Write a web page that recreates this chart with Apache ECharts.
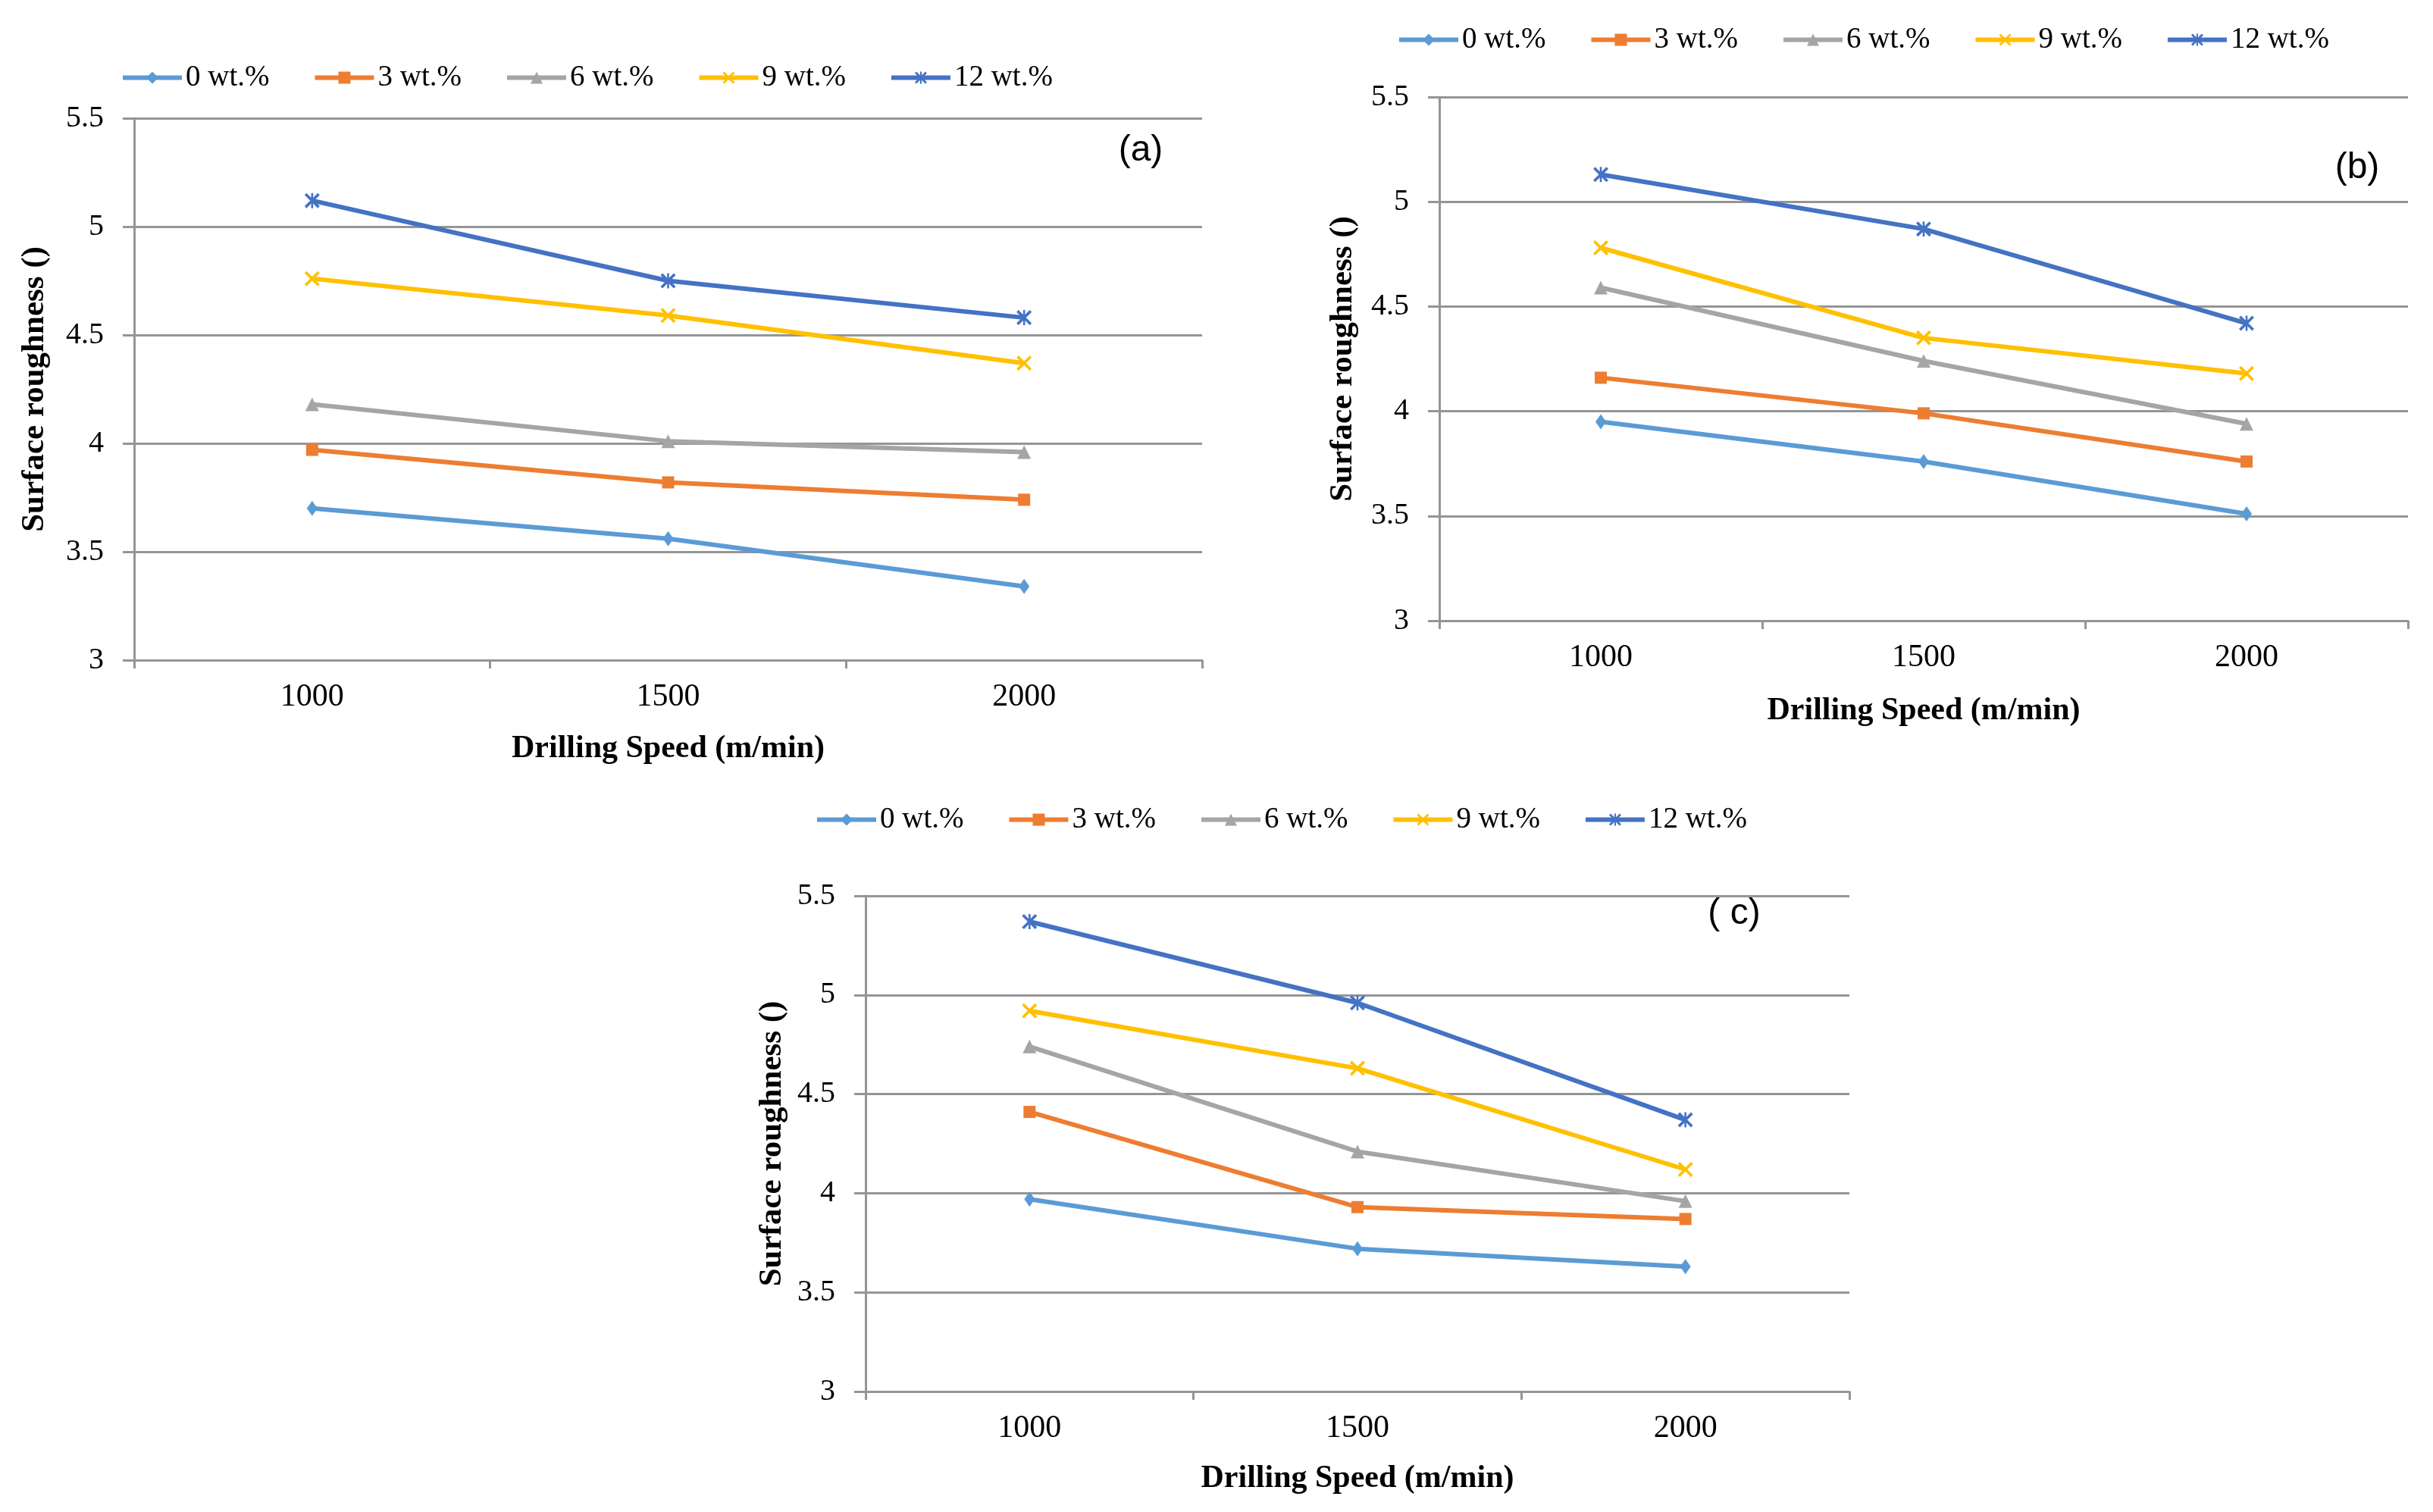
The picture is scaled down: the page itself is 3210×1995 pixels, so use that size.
<!DOCTYPE html>
<html>
<head>
<meta charset="utf-8">
<script src="https://cdn.jsdelivr.net/npm/echarts@6/dist/echarts.min.js"></script>
<style>
html,body{margin:0;padding:0;background:#fff;}
#chart{width:3210px;height:1995px;}
</style>
</head>
<body>
<div id="chart"></div>
<script>
// ---- data ----
const categories = ['1000', '1500', '2000'];
const seriesNames = ['0 wt.%', '3 wt.%', '6 wt.%', '9 wt.%', '12 wt.%'];
const panelLabels = ['(a)', '(b)', '( c)'];
const yMin = 3, yMax = 5.5, yStep = 0.5;

// panel (a)
const a0  = [3.70, 3.56, 3.34];
const a3  = [3.97, 3.82, 3.74];
const a6  = [4.18, 4.01, 3.96];
const a9  = [4.76, 4.59, 4.37];
const a12 = [5.12, 4.75, 4.58];
// panel (b)
const b0  = [3.95, 3.76, 3.51];
const b3  = [4.16, 3.99, 3.76];
const b6  = [4.59, 4.24, 3.94];
const b9  = [4.78, 4.35, 4.18];
const b12 = [5.13, 4.87, 4.42];
// panel (c)
const c0  = [3.97, 3.72, 3.63];
const c3  = [4.41, 3.93, 3.87];
const c6  = [4.74, 4.21, 3.96];
const c9  = [4.92, 4.63, 4.12];
const c12 = [5.37, 4.96, 4.37];

const panelData = [[a0, a3, a6, a9, a12], [b0, b3, b6, b9, b12], [c0, c3, c6, c9, c12]];

// ---- styles ----
const colors = ['#5B9BD5', '#ED7D31', '#A5A5A5', '#FFC000', '#4472C4'];
const xPath = 'path://M0,1.3L1.3,0L10,8.7L8.7,10Z M8.7,0L10,1.3L1.3,10L0,8.7Z';
const starPath = 'path://M0,1.3L1.3,0L10,8.7L8.7,10Z M8.7,0L10,1.3L1.3,10L0,8.7Z M4.35,0H5.65V10H4.35Z';
const symbols = ['diamond', 'rect', 'triangle', xPath, starPath];
const symbolSizes = [[14, 20], 16, 18, 20, 20];
const gridColor = '#959595';
const serif = "'Liberation Serif', 'Times New Roman', serif";

const grids = [
  {left: 177, top: 156, width: 1409, height: 715},
  {left: 1899, top: 128, width: 1278, height: 691},
  {left: 1142, top: 1182, width: 1298, height: 654}
];
const legendPos = [{left: 154, top: 78}, {left: 1838, top: 28}, {left: 1070, top: 1057}];
const yNameGap = [110, 106, 102];
const xNameGap = [96, 98, 94];
const labelPos = [[1505, 199], [3110, 222], [2288, 1206]];

const xAxes = [], yAxes = [], series = [], legends = [], graphics = [];
grids.forEach((g, p) => {
  xAxes.push({
    type: 'category', gridIndex: p, data: categories, boundaryGap: true,
    axisLine: {show: true, lineStyle: {color: gridColor, width: 3}},
    axisTick: {show: true, length: 11, lineStyle: {color: gridColor, width: 3}},
    axisLabel: {fontSize: 42, fontFamily: serif, color: '#000', margin: 28},
    splitLine: {show: false},
    name: 'Drilling Speed (m/min)', nameLocation: 'middle', nameGap: xNameGap[p],
    nameTextStyle: {fontSize: 42, fontWeight: 'bold', fontFamily: serif, color: '#000'}
  });
  yAxes.push({
    type: 'value', gridIndex: p, min: yMin, max: yMax, interval: yStep,
    axisLine: {show: true, lineStyle: {color: gridColor, width: 3}},
    axisTick: {show: true, length: 15, lineStyle: {color: gridColor, width: 3}},
    axisLabel: {fontSize: 40, fontFamily: serif, color: '#000', margin: 40},
    splitLine: {show: true, lineStyle: {color: gridColor, width: 3}},
    name: 'Surface roughness ()', nameLocation: 'middle', nameGap: yNameGap[p], nameRotate: 90,
    nameTextStyle: {fontSize: 43, fontWeight: 'bold', fontFamily: serif, color: '#000'}
  });
  panelData[p].forEach((arr, i) => {
    series.push({
      type: 'line', name: seriesNames[i], xAxisIndex: p, yAxisIndex: p,
      data: arr, symbol: symbols[i], symbolSize: symbolSizes[i], showAllSymbol: true,
      color: colors[i],
      itemStyle: {color: colors[i]},
      lineStyle: {color: colors[i], width: 6},
      animation: false
    });
  });
  legends.push({
    data: seriesNames, left: legendPos[p].left, top: legendPos[p].top,
    itemWidth: 78, itemHeight: 20, itemGap: 57,
    lineStyle: {width: 6},
    textStyle: {fontSize: 39, fontFamily: serif, color: '#000'},
    selectedMode: false
  });
  graphics.push({
    type: 'text', x: labelPos[p][0], y: labelPos[p][1],
    style: {text: panelLabels[p], fontSize: 48, fontFamily: "'Liberation Sans Narrow', 'Liberation Sans', sans-serif",
      fill: '#000', align: 'center', verticalAlign: 'middle', textAlign: 'center', textVerticalAlign: 'middle'}
  });
});

const chart = echarts.init(document.getElementById('chart'));
chart.setOption({
  backgroundColor: '#ffffff',
  animation: false,
  grid: grids,
  xAxis: xAxes,
  yAxis: yAxes,
  legend: legends,
  series: series,
  graphic: graphics
});
</script>
</body>
</html>
